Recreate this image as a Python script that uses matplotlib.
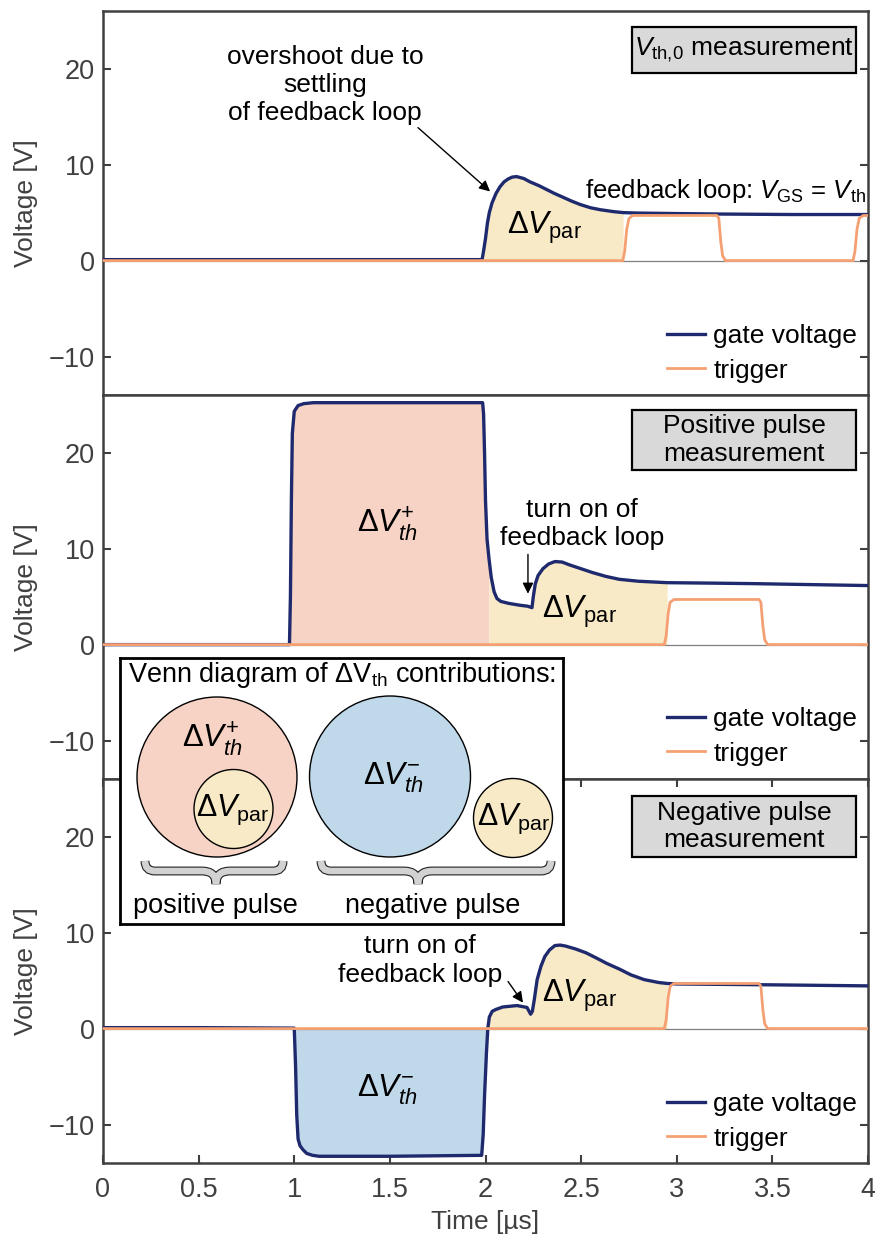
import numpy as np
import matplotlib
matplotlib.use("Agg")
import matplotlib.pyplot as plt
from matplotlib.patches import Circle, Rectangle, PathPatch
from matplotlib.path import Path
from matplotlib.lines import Line2D
import matplotlib.patheffects as pe

plt.rcParams['font.family'] = ['Liberation Sans', 'DejaVu Sans']
plt.rcParams['mathtext.fontset'] = 'custom'
plt.rcParams['mathtext.rm'] = 'Liberation Sans'
plt.rcParams['mathtext.it'] = 'Liberation Sans:italic'
plt.rcParams['mathtext.bf'] = 'Liberation Sans:bold'
plt.rcParams['axes.unicode_minus'] = True

# ---------------- measured waveforms (time in µs, voltage in V) ----------------
# Vth,0 measurement
t_gate_vth0 = [0, 0.5, 1.0, 1.5, 1.982, 1.99, 2.0, 2.01, 2.02, 2.034, 2.055, 2.076,
               2.097, 2.118, 2.14, 2.163, 2.2, 2.233, 2.28, 2.32, 2.36, 2.405, 2.45,
               2.494, 2.55, 2.6, 2.67, 2.72, 2.8, 3.0, 3.226, 3.6, 4.0]
v_gate_vth0 = [0.1, 0.1, 0.1, 0.1, 0.1, 1.0, 2.3, 3.9, 5.0, 6.0, 7.0, 7.7,
               8.2, 8.5, 8.7, 8.75, 8.55, 8.2, 7.8, 7.4, 7.0, 6.6, 6.2,
               5.85, 5.5, 5.3, 5.1, 5.0, 4.95, 4.9, 4.85, 4.8, 4.8]
t_trig_vth0 = [0, 2.718, 2.728, 2.738, 2.75, 2.77, 3.21, 3.22, 3.23, 3.24, 3.255,
               3.922, 3.932, 3.942, 3.954, 3.975, 4.0]
v_trig_vth0 = [0, 0, 1.0, 3.2, 4.4, 4.7, 4.7, 4.4, 2.0, 0.5, 0,
               0, 1.0, 3.2, 4.4, 4.7, 4.7]

# Positive pulse measurement
t_gate_pos = [0, 0.5, 0.975, 0.98, 0.985, 0.99, 1.0, 1.02, 1.05, 1.1, 1.5, 1.9,
              1.985, 1.99, 1.995, 2.0, 2.008, 2.018, 2.03, 2.045, 2.06, 2.08, 2.12,
              2.18, 2.22, 2.243, 2.25, 2.26, 2.275, 2.3, 2.33, 2.363, 2.4, 2.44,
              2.5, 2.56, 2.63, 2.7, 2.8, 2.95, 3.2, 3.4, 3.7, 4.0]
v_gate_pos = [0, 0, 0, 5, 15, 22, 24.3, 24.9, 25.1, 25.2, 25.2, 25.2,
              25.2, 24, 20, 15, 11, 9, 7, 5.5, 4.8, 4.5, 4.3,
              4.1, 4.0, 3.85, 5.0, 6.3, 7.2, 7.9, 8.4, 8.65, 8.6, 8.3,
              7.9, 7.5, 7.1, 6.8, 6.6, 6.45, 6.4, 6.35, 6.25, 6.15]
t_trig_pos = [0, 2.935, 2.945, 2.955, 2.965, 2.985, 3.43, 3.44, 3.45, 3.46, 3.475, 4.0]
v_trig_pos = [0, 0, 1.0, 3.2, 4.4, 4.7, 4.7, 4.4, 2.0, 0.5, 0, 0]

# Negative pulse measurement
t_gate_neg = [0, 0.5, 1.0, 1.007, 1.013, 1.02, 1.03, 1.045, 1.065, 1.095, 1.13, 1.5,
              1.98, 1.988, 1.995, 2.005, 2.012, 2.02, 2.035, 2.055, 2.09, 2.165,
              2.217, 2.228, 2.236, 2.245, 2.255, 2.27, 2.29, 2.31, 2.335, 2.363,
              2.39, 2.418, 2.47, 2.525, 2.58, 2.633, 2.7, 2.76, 2.83, 2.906, 2.95,
              3.0, 3.54, 4.0]
v_gate_neg = [0.1, 0.1, 0.05, -4, -9, -11.5, -12.2, -12.6, -13.0, -13.2, -13.3, -13.3,
              -13.2, -11, -7, -2.5, 0, 1.2, 1.8, 2.0, 2.25, 2.4,
              2.2, 1.8, 1.5, 1.8, 3.0, 5.1, 6.5, 7.5, 8.2, 8.65,
              8.7, 8.6, 8.3, 7.9, 7.35, 6.8, 6.2, 5.6, 5.1, 4.8, 4.7,
              4.65, 4.55, 4.45]
t_trig_neg = [0, 2.935, 2.945, 2.955, 2.965, 2.985, 3.43, 3.44, 3.45, 3.46, 3.475, 4.0]
v_trig_neg = [0, 0, 1.0, 3.2, 4.4, 4.7, 4.7, 4.4, 2.0, 0.5, 0, 0]

# time windows of the shaded contributions
par_window_vth0 = (1.982, 2.72)
pulse_window_pos = (0.0, 2.018)
par_window_pos = (2.018, 2.95)
pulse_window_neg = (0.0, 2.012)
par_window_neg = (2.012, 2.95)

x_ticks = [0, 0.5, 1, 1.5, 2, 2.5, 3, 3.5, 4]
x_tick_labels = ['0', '0.5', '1', '1.5', '2', '2.5', '3', '3.5', '4']
y_ticks = [-10, 0, 10, 20]

# ---------------- styling ----------------
C_GATE = '#1f2a6e'
C_TRIG = '#f4a072'
C_PAR = '#f8eac7'
C_POS = '#f6d3c4'
C_NEG = '#bfd8ea'
C_AX = '#404040'
FS = 19
FS_D = 22.5

W, H = 875, 1241
fig = plt.figure(figsize=(W / 100, H / 100), dpi=100)


def fx(x):
    return x / W


def fy(y):
    return 1 - y / H


def make_axes(top_px, bottom_px, show_x):
    ax = fig.add_axes([fx(103), fy(bottom_px), fx(868) - fx(103), fy(top_px) - fy(bottom_px)])
    ax.set_xlim(0, 4)
    ax.set_ylim(-14, 26)
    for s in ax.spines.values():
        s.set_color(C_AX)
        s.set_linewidth(1.8)
    ax.set_yticks(y_ticks)
    ax.tick_params(axis='y', direction='in', left=True, right=True, length=6, width=1.5,
                   color=C_AX, labelcolor=C_AX, labelsize=FS + 0.5, pad=6)
    if show_x:
        ax.set_xticks(x_ticks)
        ax.set_xticklabels(x_tick_labels)
        ax.tick_params(axis='x', direction='in', top=True, bottom=True, length=6, width=1.5,
                       color=C_AX, labelcolor=C_AX, labelsize=FS + 0.5, pad=10)
        ax.set_xlabel('Time [µs]', fontsize=FS, color=C_AX, labelpad=5)
    else:
        ax.set_xticks([])
    ax.set_ylabel('Voltage [V]', fontsize=FS, color=C_AX)
    ax.yaxis.set_label_coords(-0.085, 0.5)
    ax.axhline(0, color='#808080', lw=0.9, zorder=1)
    return ax


def draw_traces(ax, tg, vg, tt, vt):
    ax.plot(tg, vg, color=C_GATE, lw=2.4, zorder=3, solid_joinstyle='round')
    ax.plot(tt, vt, color=C_TRIG, lw=2.0, zorder=4, solid_joinstyle='round')


def shade(ax, tg, vg, window, color):
    t = np.asarray(tg)
    v = np.asarray(vg)
    m = (t >= window[0]) & (t <= window[1])
    ax.fill_between(t, v, 0, where=m, color=color, lw=0, zorder=0.5)


def legend(ax, top_px):
    handles = [Line2D([], [], color=C_GATE, lw=2.4), Line2D([], [], color=C_TRIG, lw=2.0)]
    ax.legend(handles, ['gate voltage', 'trigger'], loc='upper left',
              bbox_to_anchor=(fx(667), fy(top_px)), bbox_transform=fig.transFigure,
              frameon=False, fontsize=FS, handlelength=1.45, handletextpad=0.3,
              labelspacing=0.4, borderpad=0, borderaxespad=0)


def title_box(x0, y0, x1, y1, text):
    fig.patches.append(Rectangle((fx(x0), fy(y1)), fx(x1) - fx(x0), fy(y0) - fy(y1),
                                 transform=fig.transFigure, facecolor='#d9d9d9',
                                 edgecolor='black', lw=1.6, zorder=5))
    fig.text(fx((x0 + x1) / 2), fy((y0 + y1) / 2), text, ha='center', va='center',
             fontsize=FS, linespacing=1.2, zorder=6)


arrow_kw = dict(arrowstyle='-|>', color='black', lw=1.0, mutation_scale=16,
                shrinkA=0, shrinkB=0)

# ---------------- panel 1: Vth,0 measurement ----------------
ax1 = make_axes(11, 395, False)
shade(ax1, t_gate_vth0, v_gate_vth0, par_window_vth0, C_PAR)
draw_traces(ax1, t_gate_vth0, v_gate_vth0, t_trig_vth0, v_trig_vth0)
legend(ax1, 324)
ax1.text(2.31, 3.4, r'$\Delta V_{\mathrm{par}}$', fontsize=FS_D, ha='center', va='center')
ax1.text(1.16, 18.3, 'overshoot due to\nsettling\nof feedback loop', ha='center',
         va='center', fontsize=FS, linespacing=1.22)
ax1.annotate('', xy=(2.024, 7.2), xytext=(1.647, 13.85), arrowprops=arrow_kw)
ax1.text(3.99, 7.3, r'feedback loop: $V_{\mathrm{GS}}$ = $V_{\mathrm{th}}$', fontsize=FS - 0.5,
         ha='right', va='center')
title_box(632, 27, 856, 73, r'$V_{\mathrm{th,\!0}}$ measurement')

# ---------------- panel 2: positive pulse ----------------
ax2 = make_axes(395, 779, False)
shade(ax2, t_gate_pos, v_gate_pos, pulse_window_pos, C_POS)
shade(ax2, t_gate_pos, v_gate_pos, par_window_pos, C_PAR)
draw_traces(ax2, t_gate_pos, v_gate_pos, t_trig_pos, v_trig_pos)
legend(ax2, 707)
ax2.text(1.485, 12.5, r'$\Delta V_{th}^{+}$', fontsize=FS_D, ha='center', va='center')
ax2.text(2.494, 3.4, r'$\Delta V_{\mathrm{par}}$', fontsize=FS_D, ha='center', va='center')
ax2.text(2.505, 12.6, 'turn on of\nfeedback loop', fontsize=FS, ha='center', va='center',
         linespacing=1.22)
ax2.annotate('', xy=(2.222, 5.3), xytext=(2.222, 9.4), arrowprops=arrow_kw)
title_box(632, 410, 856, 470, 'Positive pulse\nmeasurement')

# ---------------- panel 3: negative pulse ----------------
ax3 = make_axes(779, 1163, True)
shade(ax3, t_gate_neg, v_gate_neg, pulse_window_neg, C_NEG)
shade(ax3, t_gate_neg, v_gate_neg, par_window_neg, C_PAR)
draw_traces(ax3, t_gate_neg, v_gate_neg, t_trig_neg, v_trig_neg)
legend(ax3, 1092)
ax3.text(1.485, -6.4, r'$\Delta V_{th}^{-}$', fontsize=FS_D, ha='center', va='center')
ax3.text(2.494, 3.4, r'$\Delta V_{\mathrm{par}}$', fontsize=FS_D, ha='center', va='center')
ax3.text(1.658, 7.1, 'turn on of\nfeedback loop', fontsize=FS, ha='center', va='center',
         linespacing=1.22)
ax3.annotate('', xy=(2.196, 2.7), xytext=(2.118, 4.9), arrowprops=arrow_kw)
title_box(632, 796, 856, 857, 'Negative pulse\nmeasurement')

# ---------------- Venn diagram inset ----------------
vx0, vy0, vx1, vy1 = 120, 658, 563, 924
axv = fig.add_axes([fx(vx0), fy(vy1), fx(vx1) - fx(vx0), fy(vy0) - fy(vy1)], zorder=10)
axv.set_xlim(vx0, vx1)
axv.set_ylim(vy1, vy0)
axv.set_xticks([])
axv.set_yticks([])
axv.set_facecolor('white')
for s in axv.spines.values():
    s.set_color('black')
    s.set_linewidth(2.0)

axv.add_patch(Circle((217, 777), 80, facecolor=C_POS, edgecolor='black', lw=1.0))
axv.add_patch(Circle((233.5, 809), 39.5, facecolor=C_PAR, edgecolor='black', lw=1.0))
axv.add_patch(Circle((390, 776.5), 80.5, facecolor=C_NEG, edgecolor='black', lw=1.0))
axv.add_patch(Circle((513, 818), 39.5, facecolor=C_PAR, edgecolor='black', lw=1.0))

axv.text(342, 675, r'Venn diagram of $\mathrm{\Delta V_{th}}$ contributions:', fontsize=FS + 0.5,
         ha='center', va='center')
axv.text(212, 739, r'$\Delta V_{th}^{+}$', fontsize=FS_D, ha='center', va='center')
axv.text(233, 810, r'$\Delta V_{\mathrm{par}}$', fontsize=FS_D - 0.5, ha='center', va='center')
axv.text(393, 778, r'$\Delta V_{th}^{-}$', fontsize=FS_D, ha='center', va='center')
axv.text(514, 819, r'$\Delta V_{\mathrm{par}}$', fontsize=FS_D - 0.5, ha='center', va='center')


def brace(ax, x0, x1, xm, ytop, ymid, ytip):
    r = 10
    verts = [(x0, ytop), (x0, ymid - r), (x0, ymid), (x0 + r, ymid),
             (xm - 14, ymid), (xm, ymid), (xm, ytip),
             (xm, ymid), (xm + 14, ymid),
             (x1 - r, ymid), (x1, ymid), (x1, ymid - r), (x1, ytop)]
    codes = [Path.MOVETO, Path.LINETO, Path.CURVE3, Path.CURVE3,
             Path.LINETO, Path.CURVE3, Path.CURVE3,
             Path.CURVE3, Path.CURVE3,
             Path.LINETO, Path.CURVE3, Path.CURVE3, Path.LINETO]
    patch = PathPatch(Path(verts, codes), facecolor='none', edgecolor='#d2d2d2', lw=4.8,
                      capstyle='butt', joinstyle='miter')
    patch.set_path_effects([pe.Stroke(linewidth=6.4, foreground='#222222',
                                      capstyle='butt', joinstyle='miter'), pe.Normal()])
    ax.add_patch(patch)


brace(axv, 145, 283, 216, 861, 871, 884)
brace(axv, 321, 551, 418, 861, 871, 884)
axv.text(215, 906, 'positive pulse', fontsize=FS + 0.5, ha='center', va='center')
axv.text(433, 906, 'negative pulse', fontsize=FS + 0.5, ha='center', va='center')

fig.savefig('out.png', dpi=100)
